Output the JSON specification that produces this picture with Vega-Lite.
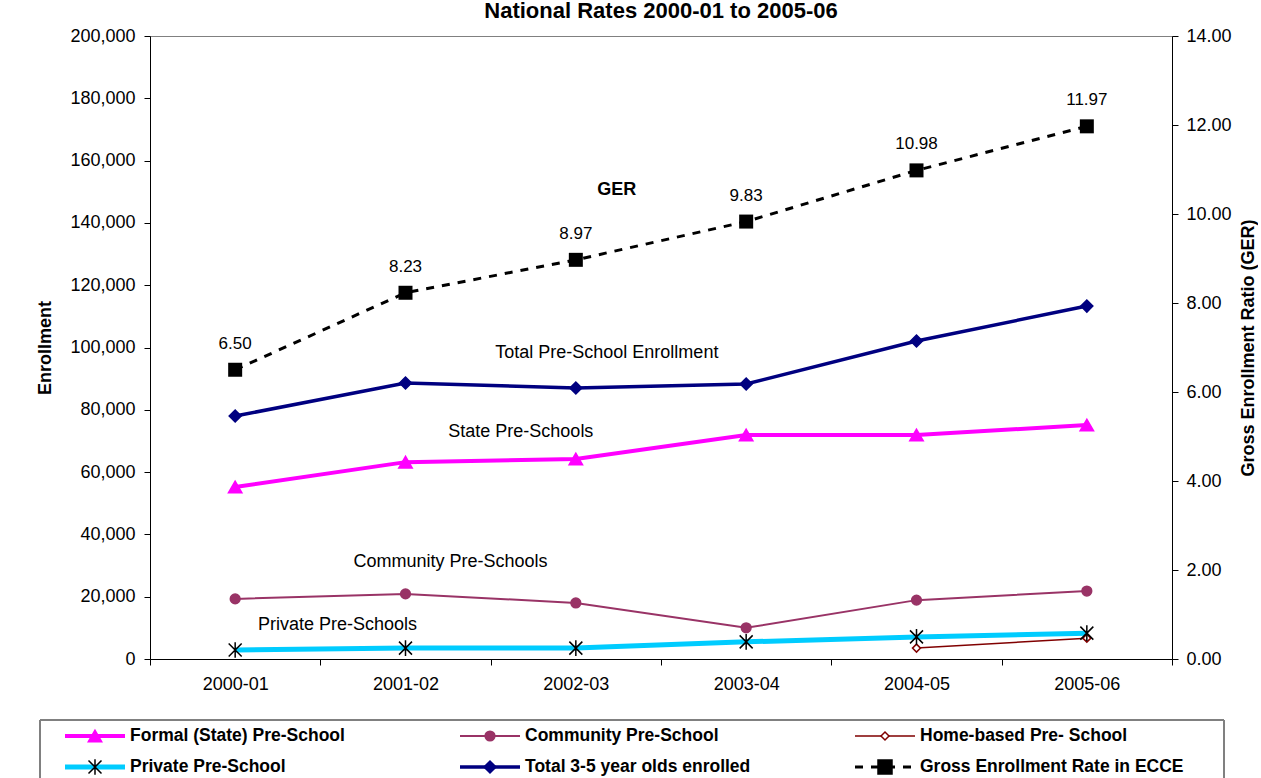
{
  "$schema": "https://vega.github.io/schema/vega-lite/v6.json",
  "padding": {"left": 36, "top": 0, "right": 0, "bottom": 0},
  "background": "white",
  "width": 1022,
  "height": 623,
  "config": {
    "font": "Liberation Sans",
    "view": {"stroke": "#808080", "strokeWidth": 1},
    "legend": {"disable": true},
    "axis": {
      "labelFont": "Liberation Sans", "labelFontSize": 18, "labelColor": "#000",
      "tickColor": "#000", "domainColor": "#000", "grid": false,
      "titleFont": "Liberation Sans", "titleFontSize": 18, "titleFontWeight": "bold", "titleColor": "#000",
      "tickSize": 6
    }
  },
  "title": {"text": "National Rates 2000-01 to 2005-06", "fontSize": 22, "fontWeight": "bold", "color": "#000", "offset": 4, "anchor": "middle"},
  "datasets": {
    "enrollment": [
      {"series": "Formal (State) Pre-School", "year": "2000-01", "value": 55200},
      {"series": "Formal (State) Pre-School", "year": "2001-02", "value": 63200},
      {"series": "Formal (State) Pre-School", "year": "2002-03", "value": 64200},
      {"series": "Formal (State) Pre-School", "year": "2003-04", "value": 71900},
      {"series": "Formal (State) Pre-School", "year": "2004-05", "value": 71900},
      {"series": "Formal (State) Pre-School", "year": "2005-06", "value": 75100},
      {"series": "Community Pre-School", "year": "2000-01", "value": 19300},
      {"series": "Community Pre-School", "year": "2001-02", "value": 20900},
      {"series": "Community Pre-School", "year": "2002-03", "value": 18000},
      {"series": "Community Pre-School", "year": "2003-04", "value": 10000},
      {"series": "Community Pre-School", "year": "2004-05", "value": 18900},
      {"series": "Community Pre-School", "year": "2005-06", "value": 21800},
      {"series": "Home-based Pre- School", "year": "2004-05", "value": 3500},
      {"series": "Home-based Pre- School", "year": "2005-06", "value": 6700},
      {"series": "Private Pre-School", "year": "2000-01", "value": 2900},
      {"series": "Private Pre-School", "year": "2001-02", "value": 3500},
      {"series": "Private Pre-School", "year": "2002-03", "value": 3500},
      {"series": "Private Pre-School", "year": "2003-04", "value": 5500},
      {"series": "Private Pre-School", "year": "2004-05", "value": 7100},
      {"series": "Private Pre-School", "year": "2005-06", "value": 8300},
      {"series": "Total 3-5 year olds enrolled", "year": "2000-01", "value": 78000},
      {"series": "Total 3-5 year olds enrolled", "year": "2001-02", "value": 88600},
      {"series": "Total 3-5 year olds enrolled", "year": "2002-03", "value": 87000},
      {"series": "Total 3-5 year olds enrolled", "year": "2003-04", "value": 88300},
      {"series": "Total 3-5 year olds enrolled", "year": "2004-05", "value": 102100},
      {"series": "Total 3-5 year olds enrolled", "year": "2005-06", "value": 113300}
    ],
    "ger": [
      {"year": "2000-01", "ger": 6.50},
      {"year": "2001-02", "ger": 8.23},
      {"year": "2002-03", "ger": 8.97},
      {"year": "2003-04", "ger": 9.83},
      {"year": "2004-05", "ger": 10.98},
      {"year": "2005-06", "ger": 11.97}
    ],
    "notes": [
      {"label": "Total Pre-School Enrollment", "year": "2002-03", "value": 98200},
      {"label": "State Pre-Schools", "year": "2002-03", "value": 72900},
      {"label": "Community Pre-Schools", "year": "2001-02", "value": 31100},
      {"label": "Private Pre-Schools", "year": "2001-02", "value": 10900}
    ],
    "gerNote": [
      {"label": "GER", "year": "2002-03", "ger": 10.54}
    ],
    "legend": [
      {"series": "Formal (State) Pre-School", "col": 0, "row": 0},
      {"series": "Community Pre-School", "col": 1, "row": 0},
      {"series": "Home-based Pre- School", "col": 2, "row": 0},
      {"series": "Private Pre-School", "col": 0, "row": 1},
      {"series": "Total 3-5 year olds enrolled", "col": 1, "row": 1},
      {"series": "Gross Enrollment Rate in ECCE", "col": 2, "row": 1}
    ]
  },
  "layer": [
    {
      "data": {"name": "enrollment"},
      "layer": [
        {
          "mark": {"type": "line"},
          "encoding": {
            "x": {"field": "year", "type": "ordinal", "sort": ["2000-01","2001-02","2002-03","2003-04","2004-05","2005-06"], "scale": {"type": "band", "paddingInner": 0, "paddingOuter": 0}, "bandPosition": 0.5, "axis": {"title": null, "orient": "bottom", "labelAngle": 0, "tickBand": "extent", "labelPadding": 10, "tickSize": 6}},
            "y": {"field": "value", "type": "quantitative", "scale": {"domain": [0, 200000], "nice": false}, "title": "Enrollment", "axis": {"orient": "left", "values": [0,20000,40000,60000,80000,100000,120000,140000,160000,180000,200000], "format": ",.0f", "labelPadding": 9, "titlePadding": 15}},
            "color": {"field": "series", "type": "nominal", "legend": null, "scale": {"domain": ["Formal (State) Pre-School","Community Pre-School","Home-based Pre- School","Private Pre-School","Total 3-5 year olds enrolled","Gross Enrollment Rate in ECCE"], "range": ["#FF00FF","#993366","#800000","#00CCFF","#000080","#000000"]}},
            "strokeWidth": {"field": "series", "type": "nominal", "legend": null, "scale": {"type": "ordinal", "domain": ["Formal (State) Pre-School","Community Pre-School","Home-based Pre- School","Private Pre-School","Total 3-5 year olds enrolled","Gross Enrollment Rate in ECCE"], "range": [4, 2, 1.5, 5, 3.5, 3]}}
          }
        },
        {
          "mark": {"type": "point", "filled": true, "opacity": 1, "strokeWidth": 1.5},
          "encoding": {
            "x": {"field": "year", "type": "ordinal", "sort": ["2000-01","2001-02","2002-03","2003-04","2004-05","2005-06"], "bandPosition": 0.5},
            "y": {"field": "value", "type": "quantitative", "title": "Enrollment"},
            "shape": {"field": "series", "type": "nominal", "legend": null, "scale": {"domain": ["Formal (State) Pre-School","Community Pre-School","Home-based Pre- School","Private Pre-School","Total 3-5 year olds enrolled","Gross Enrollment Rate in ECCE"], "range": ["triangle-up","circle","diamond","M-1,-1L1,1M-1,1L1,-1M0,-1.2L0,1.2","diamond","square"]}},
            "fill": {"field": "series", "type": "nominal", "legend": null, "scale": {"domain": ["Formal (State) Pre-School","Community Pre-School","Home-based Pre- School","Private Pre-School","Total 3-5 year olds enrolled","Gross Enrollment Rate in ECCE"], "range": ["#FF00FF","#993366","#FFFFFF","transparent","#000080","#000000"]}},
            "stroke": {"field": "series", "type": "nominal", "legend": null, "scale": {"domain": ["Formal (State) Pre-School","Community Pre-School","Home-based Pre- School","Private Pre-School","Total 3-5 year olds enrolled","Gross Enrollment Rate in ECCE"], "range": ["#FF00FF","#993366","#800000","#000000","#000080","#000000"]}},
            "size": {"field": "series", "type": "nominal", "legend": null, "scale": {"type": "ordinal", "domain": ["Formal (State) Pre-School","Community Pre-School","Home-based Pre- School","Private Pre-School","Total 3-5 year olds enrolled","Gross Enrollment Rate in ECCE"], "range": [180, 95, 64, 169, 144, 196]}}
          }
        },
        {
          "data": {"name": "notes"},
          "transform": [{"filter": "datum.label === 'Total Pre-School Enrollment'"}],
          "mark": {"type": "text", "dx": 31, "fontSize": 18, "color": "#000", "align": "center", "baseline": "middle"},
          "encoding": {
            "x": {"field": "year", "type": "ordinal", "sort": ["2000-01","2001-02","2002-03","2003-04","2004-05","2005-06"], "bandPosition": 0.5},
            "y": {"field": "value", "type": "quantitative", "title": "Enrollment"},
            "text": {"field": "label"}
          }
        },
        {
          "data": {"name": "notes"},
          "transform": [{"filter": "datum.label === 'State Pre-Schools'"}],
          "mark": {"type": "text", "dx": -55, "fontSize": 18, "color": "#000", "align": "center", "baseline": "middle"},
          "encoding": {
            "x": {"field": "year", "type": "ordinal", "sort": ["2000-01","2001-02","2002-03","2003-04","2004-05","2005-06"], "bandPosition": 0.5},
            "y": {"field": "value", "type": "quantitative", "title": "Enrollment"},
            "text": {"field": "label"}
          }
        },
        {
          "data": {"name": "notes"},
          "transform": [{"filter": "datum.label === 'Community Pre-Schools'"}],
          "mark": {"type": "text", "dx": 45, "fontSize": 18, "color": "#000", "align": "center", "baseline": "middle"},
          "encoding": {
            "x": {"field": "year", "type": "ordinal", "sort": ["2000-01","2001-02","2002-03","2003-04","2004-05","2005-06"], "bandPosition": 0.5},
            "y": {"field": "value", "type": "quantitative", "title": "Enrollment"},
            "text": {"field": "label"}
          }
        },
        {
          "data": {"name": "notes"},
          "transform": [{"filter": "datum.label === 'Private Pre-Schools'"}],
          "mark": {"type": "text", "dx": -68, "fontSize": 18, "color": "#000", "align": "center", "baseline": "middle"},
          "encoding": {
            "x": {"field": "year", "type": "ordinal", "sort": ["2000-01","2001-02","2002-03","2003-04","2004-05","2005-06"], "bandPosition": 0.5},
            "y": {"field": "value", "type": "quantitative", "title": "Enrollment"},
            "text": {"field": "label"}
          }
        }
      ]
    },
    {
      "data": {"name": "ger"},
      "layer": [
        {
          "mark": {"type": "line", "color": "#000", "strokeWidth": 3, "strokeDash": [8, 8]},
          "encoding": {
            "x": {"field": "year", "type": "ordinal", "sort": ["2000-01","2001-02","2002-03","2003-04","2004-05","2005-06"], "scale": {"type": "band", "paddingInner": 0, "paddingOuter": 0}, "bandPosition": 0.5, "axis": null},
            "y": {"field": "ger", "type": "quantitative", "scale": {"domain": [0, 14], "nice": false}, "title": "Gross Enrollment Ratio (GER)", "axis": {"orient": "right", "values": [0,2,4,6,8,10,12,14], "format": ".2f", "labelPadding": 8, "titlePadding": 8, "titleAngle": 270, "titleBaseline": "top"}}
          }
        },
        {
          "mark": {"type": "point", "shape": "square", "filled": true, "color": "#000", "size": 196, "opacity": 1},
          "encoding": {
            "x": {"field": "year", "type": "ordinal", "sort": ["2000-01","2001-02","2002-03","2003-04","2004-05","2005-06"], "bandPosition": 0.5, "axis": null},
            "y": {"field": "ger", "type": "quantitative", "title": "Gross Enrollment Ratio (GER)"}
          }
        },
        {
          "mark": {"type": "text", "dy": -26, "fontSize": 17, "color": "#000", "align": "center", "baseline": "middle"},
          "encoding": {
            "x": {"field": "year", "type": "ordinal", "sort": ["2000-01","2001-02","2002-03","2003-04","2004-05","2005-06"], "bandPosition": 0.5, "axis": null},
            "y": {"field": "ger", "type": "quantitative", "title": "Gross Enrollment Ratio (GER)"},
            "text": {"field": "ger", "type": "quantitative", "format": ".2f"}
          }
        },
        {
          "data": {"name": "gerNote"},
          "mark": {"type": "text", "dx": 41, "fontSize": 18, "fontWeight": "bold", "color": "#000", "align": "center", "baseline": "middle"},
          "encoding": {
            "x": {"field": "year", "type": "ordinal", "sort": ["2000-01","2001-02","2002-03","2003-04","2004-05","2005-06"], "bandPosition": 0.5, "axis": null},
            "y": {"field": "ger", "type": "quantitative", "title": "Gross Enrollment Ratio (GER)"},
            "text": {"field": "label"}
          }
        }
      ]
    },
    {
      "data": {"name": "legend"},
      "layer": [
        {
          "mark": {"type": "rule", "color": "#808080", "strokeWidth": 1.5},
          "encoding": {
            "x": {"datum": -0.06329, "type": "quantitative", "scale": {"domain": [0.21519, 2.80253], "nice": false, "zero": false}, "axis": null},
            "x2": {"datum": 2.93417},
            "y": {"datum": -0.5161, "type": "quantitative", "scale": {"domain": [-2.4839, -22.5806], "nice": false, "zero": false}, "axis": null}
          }
        },
        {
          "mark": {"type": "rule", "color": "#808080", "strokeWidth": 1.5},
          "encoding": {
            "x": {"datum": -0.06329, "type": "quantitative", "axis": null},
            "y": {"datum": -0.5161, "type": "quantitative", "axis": null},
            "y2": {"datum": 1.3548}
          }
        },
        {
          "mark": {"type": "rule", "color": "#808080", "strokeWidth": 1.5},
          "encoding": {
            "x": {"datum": 2.93417, "type": "quantitative", "axis": null},
            "y": {"datum": -0.5161, "type": "quantitative", "axis": null},
            "y2": {"datum": 1.3548}
          }
        },
        {
          "mark": {"type": "rule", "x2Offset": 60},
          "encoding": {
            "x": {"field": "col", "type": "quantitative", "axis": null},
            "x2": {"field": "col"},
            "y": {"field": "row", "type": "quantitative", "axis": null},
            "color": {"field": "series", "type": "nominal", "legend": null, "scale": {"domain": ["Formal (State) Pre-School","Community Pre-School","Home-based Pre- School","Private Pre-School","Total 3-5 year olds enrolled","Gross Enrollment Rate in ECCE"], "range": ["#FF00FF","#993366","#800000","#00CCFF","#000080","#000000"]}},
            "strokeWidth": {"field": "series", "type": "nominal", "legend": null, "scale": {"type": "ordinal", "domain": ["Formal (State) Pre-School","Community Pre-School","Home-based Pre- School","Private Pre-School","Total 3-5 year olds enrolled","Gross Enrollment Rate in ECCE"], "range": [4, 2, 1.5, 5, 3.5, 3]}},
            "strokeDash": {"field": "series", "type": "nominal", "legend": null, "scale": {"domain": ["Formal (State) Pre-School","Community Pre-School","Home-based Pre- School","Private Pre-School","Total 3-5 year olds enrolled","Gross Enrollment Rate in ECCE"], "range": [[1,0],[1,0],[1,0],[1,0],[1,0],[8,8]]}}
          }
        },
        {
          "mark": {"type": "point", "filled": true, "opacity": 1, "strokeWidth": 1.5, "xOffset": 30},
          "encoding": {
            "x": {"field": "col", "type": "quantitative", "axis": null},
            "y": {"field": "row", "type": "quantitative", "axis": null},
            "shape": {"field": "series", "type": "nominal", "legend": null, "scale": {"domain": ["Formal (State) Pre-School","Community Pre-School","Home-based Pre- School","Private Pre-School","Total 3-5 year olds enrolled","Gross Enrollment Rate in ECCE"], "range": ["triangle-up","circle","diamond","M-1,-1L1,1M-1,1L1,-1M0,-1.2L0,1.2","diamond","square"]}},
            "fill": {"field": "series", "type": "nominal", "legend": null, "scale": {"domain": ["Formal (State) Pre-School","Community Pre-School","Home-based Pre- School","Private Pre-School","Total 3-5 year olds enrolled","Gross Enrollment Rate in ECCE"], "range": ["#FF00FF","#993366","#FFFFFF","transparent","#000080","#000000"]}},
            "stroke": {"field": "series", "type": "nominal", "legend": null, "scale": {"domain": ["Formal (State) Pre-School","Community Pre-School","Home-based Pre- School","Private Pre-School","Total 3-5 year olds enrolled","Gross Enrollment Rate in ECCE"], "range": ["#FF00FF","#993366","#800000","#000000","#000080","#000000"]}},
            "size": {"field": "series", "type": "nominal", "legend": null, "scale": {"type": "ordinal", "domain": ["Formal (State) Pre-School","Community Pre-School","Home-based Pre- School","Private Pre-School","Total 3-5 year olds enrolled","Gross Enrollment Rate in ECCE"], "range": [180, 95, 64, 169, 144, 196]}}
          }
        },
        {
          "mark": {"type": "text", "dx": 65, "align": "left", "baseline": "middle", "fontSize": 17.5, "fontWeight": "bold", "color": "#000"},
          "encoding": {
            "x": {"field": "col", "type": "quantitative", "axis": null},
            "y": {"field": "row", "type": "quantitative", "axis": null},
            "text": {"field": "series"}
          }
        }
      ]
    }
  ],
  "resolve": {"scale": {"x": "independent", "y": "independent"}}
}
